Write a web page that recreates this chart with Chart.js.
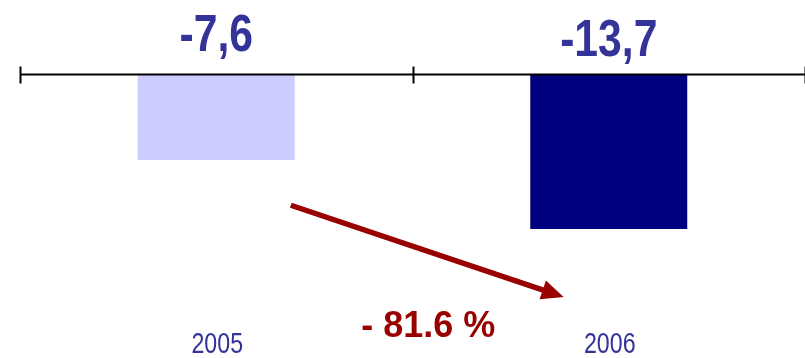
<!DOCTYPE html>
<html>
<head>
<meta charset="utf-8">
<script src="https://cdn.jsdelivr.net/npm/chart.js@4.4.1/dist/chart.umd.min.js"></script>
<style>
  html, body { margin: 0; padding: 0; background: #fff; }
  #wrap { width: 805px; height: 358px; }
</style>
</head>
<body>
<div id="wrap"><canvas id="chart"></canvas></div>
<script>
const years = ['2005', '2006'];
const values = [-7.6, -13.7];
const valueLabels = ['-7,6', '-13,7'];
const barColors = ['#ccccff', '#000080'];
const changeLabel = '- 81.6 %';

const SANS = "'Liberation Sans', Arial, sans-serif";
const LABEL_BLUE = '#333399';
const DARK_RED = '#990000';

// narrow text: regular sans squeezed horizontally
function narrowText(ctx, text, cx, baseline, font, squeeze) {
  ctx.save();
  ctx.font = font;
  ctx.textAlign = 'center';
  ctx.textBaseline = 'alphabetic';
  ctx.translate(cx, baseline);
  ctx.scale(squeeze, 1);
  ctx.fillText(text, 0, 0);
  ctx.restore();
}

// Axis line at zero with boundary ticks, labels and the change arrow
const overlay = {
  id: 'overlay',
  afterDatasetsDraw(chart) {
    const { ctx, chartArea, scales: { x, y } } = chart;
    const y0 = y.getPixelForValue(0) + 0.5;
    const step = x.getPixelForValue(1) - x.getPixelForValue(0);

    ctx.save();
    ctx.strokeStyle = '#000';
    ctx.lineWidth = 2;
    ctx.beginPath();
    ctx.moveTo(chartArea.left, y0);
    ctx.lineTo(chartArea.right, y0);
    for (let i = 0; i <= years.length; i++) {
      const tx = Math.round(x.getPixelForValue(0) - step / 2 + i * step) + 0.5;
      ctx.moveTo(tx, y0 - 8);
      ctx.lineTo(tx, y0 + 9);
    }
    ctx.stroke();

    // value labels above the axis, years along the bottom
    const lift = [24, 19];
    ctx.fillStyle = LABEL_BLUE;
    valueLabels.forEach((t, i) => {
      narrowText(ctx, t, x.getPixelForValue(i), y0 - lift[i], 'bold 52px ' + SANS, 0.82);
    });
    years.forEach((t, i) => {
      narrowText(ctx, t, x.getPixelForValue(i) + 1, 353, '29px ' + SANS, 0.8);
    });

    // arrow from the 2005 bar down towards 2006
    const ax0 = x.getPixelForValue(0.19), ay0 = y.getPixelForValue(-11.6);
    const ax1 = x.getPixelForValue(0.885), ay1 = y.getPixelForValue(-19.7);
    const ang = Math.atan2(ay1 - ay0, ax1 - ax0);
    const head = 22, half = 10;
    const bx = ax1 - head * Math.cos(ang), by = ay1 - head * Math.sin(ang);
    ctx.strokeStyle = DARK_RED;
    ctx.fillStyle = DARK_RED;
    ctx.lineWidth = 5.5;
    ctx.beginPath();
    ctx.moveTo(ax0, ay0);
    ctx.lineTo(bx + 2 * Math.cos(ang), by + 2 * Math.sin(ang));
    ctx.stroke();
    ctx.beginPath();
    ctx.moveTo(ax1, ay1);
    ctx.lineTo(bx + half * Math.sin(ang), by - half * Math.cos(ang));
    ctx.lineTo(bx - half * Math.sin(ang), by + half * Math.cos(ang));
    ctx.closePath();
    ctx.fill();

    ctx.font = 'bold 36px ' + SANS;
    ctx.textAlign = 'center';
    ctx.textBaseline = 'alphabetic';
    ctx.fillText(changeLabel, x.getPixelForValue(0.54), 337);
    ctx.restore();
  }
};

new Chart(document.getElementById('chart'), {
  type: 'bar',
  data: {
    labels: years,
    datasets: [{
      data: values,
      backgroundColor: barColors,
      borderWidth: 0,
      barPercentage: 0.4,
      categoryPercentage: 1
    }]
  },
  options: {
    responsive: true,
    maintainAspectRatio: false,
    animation: false,
    events: [],
    layout: { padding: { top: 74, left: 20, right: 0, bottom: 0 } },
    plugins: { legend: { display: false }, tooltip: { enabled: false } },
    scales: {
      x: { display: false },
      y: { display: false, min: -25.1, max: 0 }
    }
  },
  plugins: [overlay]
});
</script>
</body>
</html>
